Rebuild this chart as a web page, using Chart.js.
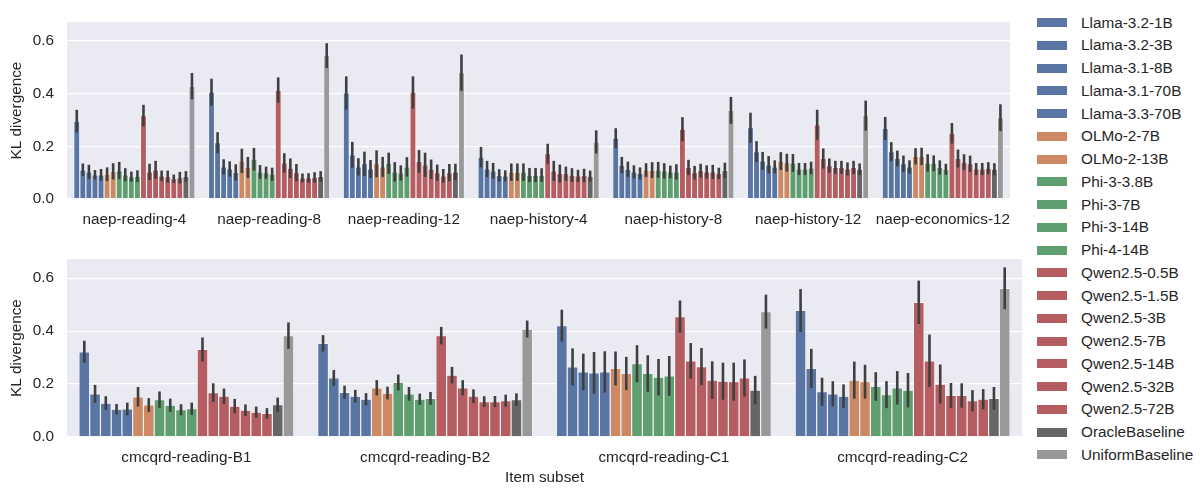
<!DOCTYPE html>
<html>
<head>
<meta charset="utf-8">
<script src="https://cdn.jsdelivr.net/npm/chart.js@4.4.0/dist/chart.umd.min.js"></script>
<style>
  body { margin: 0; background: #fff; width: 1200px; height: 488px; position: relative; overflow: hidden;
         font-family: "Liberation Sans", Arial, sans-serif; color: #262626; }
  #topWrap { position: absolute; left: 0; top: 0; width: 1022px; height: 232px; }
  #botWrap { position: absolute; left: 0; top: 237px; width: 1022px; height: 251px; }
  #legend { position: absolute; left: 1037px; top: 0; }
  .item { position: absolute; left: 0; height: 20px; display: flex; align-items: center; white-space: nowrap; font-size: 15.3px; }
  .sw { width: 30px; height: 9px; margin-right: 14px; }
</style>
</head>
<body>
<div id="topWrap"><canvas id="topChart"></canvas></div>
<div id="botWrap"><canvas id="botChart"></canvas></div>
<div id="legend"></div>
<script>
const modelNames = ['Llama-3.2-1B', 'Llama-3.2-3B', 'Llama-3.1-8B', 'Llama-3.1-70B', 'Llama-3.3-70B',
    'OLMo-2-7B', 'OLMo-2-13B', 'Phi-3-3.8B', 'Phi-3-7B', 'Phi-3-14B', 'Phi-4-14B',
    'Qwen2.5-0.5B', 'Qwen2.5-1.5B', 'Qwen2.5-3B', 'Qwen2.5-7B', 'Qwen2.5-14B', 'Qwen2.5-32B', 'Qwen2.5-72B',
    'OracleBaseline', 'UniformBaseline'];
const modelColors = ['#5875A4', '#5875A4', '#5875A4', '#5875A4', '#5875A4',
    '#CC8963', '#CC8963', '#5F9E6E', '#5F9E6E', '#5F9E6E', '#5F9E6E',
    '#B55D60', '#B55D60', '#B55D60', '#B55D60', '#B55D60', '#B55D60', '#B55D60',
    '#666666', '#999999'];

const topGroups = ['naep-reading-4', 'naep-reading-8', 'naep-reading-12', 'naep-history-4',
    'naep-history-8', 'naep-history-12', 'naep-economics-12'];
const bottomGroups = ['cmcqrd-reading-B1', 'cmcqrd-reading-B2', 'cmcqrd-reading-C1', 'cmcqrd-reading-C2'];
const yTicks = [0, 0.2, 0.4, 0.6];

// mean KL divergence per model (order of modelNames), and half width of the error bar
const naepReading4 = [0.296, 0.111, 0.103, 0.092, 0.092, 0.094, 0.105, 0.108, 0.092, 0.085, 0.087, 0.317, 0.103, 0.111, 0.088, 0.085, 0.077, 0.081, 0.086, 0.429];
const naepReading4Err = [0.043, 0.024, 0.027, 0.018, 0.022, 0.026, 0.031, 0.033, 0.025, 0.019, 0.022, 0.041, 0.031, 0.034, 0.02, 0.023, 0.016, 0.022, 0.02, 0.05];
const naepReading8 = [0.406, 0.214, 0.122, 0.114, 0.101, 0.145, 0.12, 0.151, 0.103, 0.1, 0.094, 0.414, 0.137, 0.117, 0.1, 0.08, 0.08, 0.082, 0.086, 0.545];
const naepReading8Err = [0.051, 0.04, 0.029, 0.029, 0.031, 0.046, 0.04, 0.043, 0.026, 0.023, 0.025, 0.048, 0.037, 0.037, 0.033, 0.017, 0.018, 0.02, 0.02, 0.047];
const naepReading12 = [0.403, 0.168, 0.122, 0.134, 0.114, 0.134, 0.122, 0.136, 0.103, 0.099, 0.122, 0.405, 0.143, 0.13, 0.113, 0.1, 0.088, 0.1, 0.103, 0.48];
const naepReading12Err = [0.063, 0.049, 0.033, 0.046, 0.034, 0.051, 0.038, 0.04, 0.037, 0.029, 0.037, 0.061, 0.043, 0.046, 0.037, 0.031, 0.026, 0.033, 0.031, 0.069];
const naepHistory4 = [0.159, 0.114, 0.107, 0.09, 0.088, 0.102, 0.102, 0.102, 0.091, 0.091, 0.091, 0.172, 0.107, 0.097, 0.096, 0.091, 0.088, 0.09, 0.087, 0.217];
const naepHistory4Err = [0.039, 0.031, 0.03, 0.023, 0.021, 0.033, 0.033, 0.033, 0.027, 0.027, 0.026, 0.038, 0.038, 0.034, 0.027, 0.026, 0.023, 0.025, 0.021, 0.044];
const naepHistory8 = [0.231, 0.129, 0.113, 0.103, 0.097, 0.11, 0.11, 0.111, 0.107, 0.103, 0.103, 0.265, 0.12, 0.1, 0.108, 0.103, 0.103, 0.097, 0.109, 0.337];
const naepHistory8Err = [0.038, 0.031, 0.029, 0.025, 0.023, 0.026, 0.03, 0.03, 0.029, 0.024, 0.029, 0.046, 0.029, 0.026, 0.026, 0.025, 0.027, 0.022, 0.029, 0.051];
const naepHistory12 = [0.271, 0.18, 0.145, 0.13, 0.122, 0.144, 0.138, 0.137, 0.114, 0.114, 0.118, 0.282, 0.154, 0.127, 0.12, 0.12, 0.114, 0.12, 0.113, 0.317];
const naepHistory12Err = [0.057, 0.04, 0.034, 0.033, 0.025, 0.034, 0.034, 0.034, 0.023, 0.023, 0.024, 0.057, 0.038, 0.027, 0.025, 0.025, 0.025, 0.025, 0.022, 0.057];
const naepEconomics12 = [0.268, 0.18, 0.154, 0.134, 0.122, 0.162, 0.162, 0.137, 0.136, 0.12, 0.113, 0.25, 0.154, 0.14, 0.134, 0.114, 0.114, 0.117, 0.113, 0.309];
const naepEconomics12Err = [0.044, 0.036, 0.03, 0.031, 0.025, 0.031, 0.033, 0.033, 0.03, 0.027, 0.021, 0.039, 0.034, 0.03, 0.031, 0.023, 0.023, 0.023, 0.023, 0.051];

const readingB1 = [0.322, 0.163, 0.128, 0.105, 0.106, 0.152, 0.121, 0.141, 0.12, 0.103, 0.107, 0.331, 0.168, 0.154, 0.117, 0.101, 0.094, 0.089, 0.122, 0.383];
const readingB1Err = [0.042, 0.034, 0.026, 0.02, 0.024, 0.037, 0.026, 0.031, 0.025, 0.021, 0.023, 0.045, 0.035, 0.029, 0.027, 0.022, 0.021, 0.02, 0.027, 0.05];
const readingB2 = [0.354, 0.223, 0.169, 0.154, 0.143, 0.186, 0.166, 0.206, 0.163, 0.143, 0.146, 0.383, 0.234, 0.186, 0.154, 0.134, 0.134, 0.137, 0.141, 0.408];
const readingB2Err = [0.031, 0.03, 0.025, 0.024, 0.023, 0.029, 0.024, 0.03, 0.026, 0.021, 0.024, 0.033, 0.031, 0.029, 0.026, 0.02, 0.021, 0.023, 0.024, 0.032];
const readingC1 = [0.421, 0.265, 0.246, 0.242, 0.246, 0.259, 0.24, 0.277, 0.24, 0.226, 0.231, 0.455, 0.288, 0.266, 0.215, 0.211, 0.209, 0.223, 0.177, 0.474];
const readingC1Err = [0.06, 0.07, 0.069, 0.079, 0.078, 0.064, 0.063, 0.07, 0.069, 0.069, 0.075, 0.061, 0.067, 0.07, 0.071, 0.07, 0.072, 0.07, 0.054, 0.064];
const readingC2 = [0.478, 0.259, 0.171, 0.163, 0.154, 0.215, 0.209, 0.191, 0.16, 0.186, 0.177, 0.509, 0.288, 0.2, 0.157, 0.157, 0.137, 0.143, 0.146, 0.562];
const readingC2Err = [0.081, 0.074, 0.053, 0.048, 0.045, 0.07, 0.064, 0.054, 0.051, 0.063, 0.065, 0.082, 0.099, 0.074, 0.047, 0.046, 0.04, 0.038, 0.043, 0.079];

const topVals = [naepReading4, naepReading8, naepReading12, naepHistory4, naepHistory8, naepHistory12, naepEconomics12];
const topErrs = [naepReading4Err, naepReading8Err, naepReading12Err, naepHistory4Err, naepHistory8Err, naepHistory12Err, naepEconomics12Err];
const botVals = [readingB1, readingB2, readingC1, readingC2];
const botErrs = [readingB1Err, readingB2Err, readingC1Err, readingC2Err];

const textColor = '#262626';
const labelFont = { family: 'Liberation Sans', size: 15.3 };

// group-major tables -> one dataset per model
function buildDatasets(vals, errs) {
    return modelNames.map((name, i) => ({
        label: name,
        data: vals.map(g => g[i]),
        err: errs.map(g => g[i]),
        backgroundColor: modelColors[i],
        borderColor: '#ffffff',
        borderWidth: 0.6,
        borderSkipped: 'bottom',
        categoryPercentage: 0.9,
        barPercentage: 1.0
    }));
}

const plotBg = {
    id: 'plotBg',
    beforeDraw(chart) {
        const a = chart.chartArea, c = chart.ctx;
        c.save();
        c.fillStyle = '#EAEAF2';
        c.fillRect(a.left, a.top, a.right - a.left, a.bottom - a.top);
        c.restore();
    }
};

const errorBars = {
    id: 'errorBars',
    afterDatasetsDraw(chart) {
        const c = chart.ctx, ys = chart.scales.y;
        c.save();
        c.strokeStyle = '#3f3f3f';
        c.lineWidth = 2.6;
        chart.data.datasets.forEach((ds, i) => {
            chart.getDatasetMeta(i).data.forEach((bar, j) => {
                const v = ds.data[j], e = ds.err[j];
                c.beginPath();
                c.moveTo(bar.x, ys.getPixelForValue(v - e));
                c.lineTo(bar.x, ys.getPixelForValue(v + e));
                c.stroke();
            });
        });
        c.restore();
    }
};

function makeChart(id, labels, vals, errs, padTop, xHeight, xTitle) {
    return new Chart(document.getElementById(id), {
        type: 'bar',
        data: { labels: labels, datasets: buildDatasets(vals, errs) },
        options: {
            responsive: true,
            maintainAspectRatio: false,
            animation: false,
            layout: { padding: { top: padTop, right: 0, left: 0, bottom: 0 } },
            plugins: { legend: { display: false }, tooltip: { enabled: false } },
            scales: {
                x: {
                    grid: { display: false, drawTicks: false },
                    border: { display: false },
                    ticks: { color: textColor, font: labelFont, padding: 12, maxRotation: 0, autoSkip: false },
                    title: { display: !!xTitle, text: xTitle, color: textColor, font: labelFont, padding: { top: 0, bottom: 1 } },
                    afterFit: s => { s.height = xHeight; }
                },
                y: {
                    min: 0,
                    max: 0.672,
                    grid: { color: '#ffffff', lineWidth: 1.3, drawTicks: false },
                    border: { display: false },
                    ticks: { color: textColor, font: labelFont, padding: 13, callback: v => v.toFixed(1) },
                    afterBuildTicks: s => { s.ticks = yTicks.map(v => ({ value: v })); },
                    title: { display: true, text: 'KL divergence', color: textColor, font: labelFont, padding: { top: 8, bottom: 0 } },
                    afterFit: s => { s.width = 67; }
                }
            }
        },
        plugins: [plotBg, errorBars]
    });
}

makeChart('topChart', topGroups, topVals, topErrs, 3, 33, '');
makeChart('botChart', bottomGroups, botVals, botErrs, 4, 51, 'Item subset');

// legend on the right, shared by both panels
const legend = document.getElementById('legend');
modelNames.forEach((name, i) => {
    const item = document.createElement('div');
    item.className = 'item';
    item.style.top = (22.7 + i * 22.74 - 10) + 'px';
    item.innerHTML = '<span class="sw" style="background:' + modelColors[i] + '"></span><span>' + name + '</span>';
    legend.appendChild(item);
});
</script>
</body>
</html>
